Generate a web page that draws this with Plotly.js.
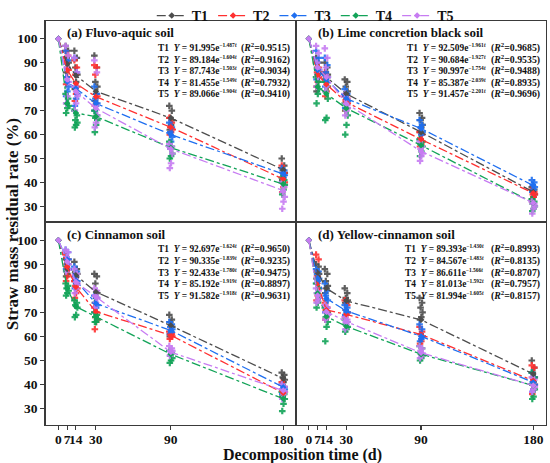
<!DOCTYPE html>
<html><head><meta charset="utf-8">
<script src="https://cdn.plot.ly/plotly-3.0.1.min.js"></script>
<style>html,body{margin:0;padding:0;background:#fff}#chart{width:550px;height:463px}</style>
</head><body><div id="chart"></div>
<script>
// ---------------- DATA ----------------
const days = [7, 14, 30, 90, 180];
const lineDays = [0, 7, 14, 30, 90, 180];
const tickDays = [0, 7, 14, 30, 90, 180];
const tickLabels = ['0', '7', '14', '30', '90', '180'];
const yTickVals = [30, 40, 50, 60, 70, 80, 90, 100];
const treatments = ['T1', 'T2', 'T3', 'T4', 'T5'];
const panelTitles = ['(a) Fluvo-aquic soil', '(b) Lime concretion black soil', '(c) Cinnamon soil', '(d) Yellow-cinnamon soil'];

// (a) Fluvo-aquic soil: replicate points per day [7,14,30,90,180]
const fluvoT1 = [[97,95,92,90,88,86],[95,92,88,85,82,79],[93,88,82,80,77,74],[72,70,67,66,64,62],[50,47,45,44,43,41]];
const fluvoT2 = [[95,93,90,87,84,81],[91,88,85,80,77,74],[89,88,85,76,73,72],[67,65,63,62,61,60],[47,44,42,40,38,36]];
const fluvoT3 = [[95,91,84,80,78,76],[92,86,80,77,75,72],[80,77,75,73,72,70],[65,63,61,59,57,55],[46,45,44,43,42,40]];
const fluvoT4 = [[77,75,73,72,71,69],[70,68,66,65,64,63],[70,68,67,66,64,61],[57,55,54,52,51,50],[42,41,40,39,37,35]];
const fluvoT5 = [[97,93,88,82,76,73],[92,86,80,76,73,70],[91,86,72,68,65,63],[56,55,54,52,48,46],[40,38,36,34,32,29]];
const fluvoMean = [[100,89.5,84.7,78.1,66.9,45.3],[100,87,81.3,75.8,63,41.4],[100,82,79.2,73,60,43.5],[100,73,69,67.5,54.5,39.3],[100,83,78,71,54,36.6]];
const fluvoA = ['91.995','89.184','87.743','81.455','89.066'];
const fluvoK = ['1.487','1.604','1.503','1.549','1.904'];
const fluvoR2 = ['0.9515','0.9162','0.9034','0.7932','0.9410'];

// (b) Lime concretion black soil
const limeT1 = [[92,90,88,86,85,78],[90,88,86,85,84,83],[83,82,80,78,77,76],[69,67,66,64,63,61],[38,37,36,35,34,33]];
const limeT2 = [[90,88,86,84,82,80],[86,84,82,80,78,76],[76,75,74,73,71,70],[61,60,58,57,56,55],[37,36,35,35,34,32]];
const limeT3 = [[95,92,90,87,85,83],[92,89,86,84,82,80],[79,77,76,74,73,71],[66,64,63,61,60,58],[41,40,39,38,37,36]];
const limeT4 = [[84,82,80,79,77,73],[82,80,78,75,67,66],[73,71,70,68,64,60],[58,57,56,55,53,51],[33,32,31,30,29,28]];
const limeT5 = [[97,94,90,87,84,80],[96,92,88,84,80,78],[77,75,73,71,70,68],[57,55,54,52,51,49],[32,31,31,30,29,27]];
const limeMean = [[100,87,84,77,61,36],[100,85,81,73.5,58,35.5],[100,87,83,75,62.5,38.7],[100,80,77,71,55.5,31.5],[100,88,84,73,53,31.5]];
const limeA = ['92.509','90.684','90.997','85.387','91.457'];
const limeK = ['1.961','1.927','1.754','2.039','2.201'];
const limeR2 = ['0.9685','0.9535','0.9488','0.8935','0.9696'];

// (c) Cinnamon soil
const cinnT1 = [[92,90,89,88,86,85],[91,88,87,86,85,83],[86,85,82,78,76,74],[69,67,66,64,62,60],[45,44,43,42,41,40]];
const cinnT2 = [[94,92,90,88,85,83],[83,82,81,80,78,76],[72,70,68,67,66,63],[62,61,61,60,60,59],[41,39,38,37,36,35]];
const cinnT3 = [[96,95,93,92,90,88],[89,87,85,83,82,80],[77,76,74,73,72,70],[66,65,64,63,62,61],[40,39,38,38,37,36]];
const cinnT4 = [[82,81,80,79,78,77],[75,74,73,72,69,68],[70,69,68,67,66,66],[54,53,52,51,50,49],[37,36,35,34,32,29]];
const cinnT5 = [[96,95,93,90,88,87],[88,86,84,82,80,78],[80,79,77,76,74,72],[56,55,54,54,53,52],[40,39,38,37,36,34]];
const cinnMean = [[100,88,85.4,78.5,64.5,42.5],[100,89,80.6,70.3,60.5,36.5],[100,92,83.3,73.7,62.5,38.9],[100,80,72.4,68.3,52.6,34.1],[100,91,82.6,76.5,53.5,37.5]];
const cinnA = ['92.697','90.335','92.433','85.192','91.582'];
const cinnK = ['1.624','1.839','1.780','1.919','1.918'];
const cinnR2 = ['0.9650','0.9235','0.9475','0.8897','0.9631'];

// (d) Yellow-cinnamon soil
const yellT1 = [[90,89,87,86,85,84],[88,86,83,81,80,78],[80,78,76,75,74,74],[76,74,72,70,68,67],[50,47,45,43,41,40]];
const yellT2 = [[94,92,85,80,77,75],[74,72,71,70,68,67],[75,73,71,70,69,68],[64,62,61,60,58,57],[48,47,43,40,38,36]];
const yellT3 = [[88,87,86,84,83,82],[82,79,77,75,72,70],[73,72,71,70,70,69],[65,63,61,60,59,58],[45,43,41,40,38,37]];
const yellT4 = [[82,80,78,76,74,72],[72,70,68,66,64,58],[67,66,65,64,63,62],[56,55,53,52,51,50],[45,43,40,38,35,34]];
const yellT5 = [[80,79,78,76,75,74],[73,72,70,69,68,67],[68,67,66,66,65,63],[56,55,54,53,52,51],[43,42,40,39,38,37]];
const yellMean = [[100,86.5,80,74.8,66.9,44.4],[100,82,71,69.2,60.8,41.6],[100,84,75.8,70.6,60.1,40.9],[100,78,68.3,64.2,52.6,39.6],[100,77,70.3,66.2,53.2,39.6]];
const yellA = ['89.393','84.567','86.611','81.013','81.994'];
const yellK = ['1.430','1.483','1.566','1.592','1.605'];
const yellR2 = ['0.8993','0.8135','0.8707','0.7957','0.8157'];

// ---------------- STYLE ----------------
const colors = ['#4d4d4d', '#ff3030', '#1f6ff0', '#12a358', '#c77cf2'];
const FONT = '"Liberation Serif", "Times New Roman", Times, serif';
const W = 550, H = 463;
const jitter = [-1.2, 0.8, -0.4, 1.2, 0.2, -0.8];
const frameColor = '#3a3a3a';

const panels = [
  {pts:[fluvoT1,fluvoT2,fluvoT3,fluvoT4,fluvoT5], mean:fluvoMean, A:fluvoA, K:fluvoK, R:fluvoR2, x:[45.5,296], y:[15,219], eqL:156, eqR:292},
  {pts:[limeT1,limeT2,limeT3,limeT4,limeT5], mean:limeMean, A:limeA, K:limeK, R:limeR2, x:[296,546], y:[15,219], eqL:405, eqR:542},
  {pts:[cinnT1,cinnT2,cinnT3,cinnT4,cinnT5], mean:cinnMean, A:cinnA, K:cinnK, R:cinnR2, x:[45.5,296], y:[219,424], eqL:156, eqR:292},
  {pts:[yellT1,yellT2,yellT3,yellT4,yellT5], mean:yellMean, A:yellA, K:yellK, R:yellR2, x:[296,546], y:[219,424], eqL:403, eqR:542}
];

const px = v => v / W;
const py = v => 1 - v / H;

const traces = [];
const annotations = [];
const layout = {
  width: W, height: H,
  margin: {l:0, r:0, t:0, b:0},
  paper_bgcolor: '#ffffff', plot_bgcolor: '#ffffff',
  font: {family: FONT, color: '#111', weight: 'bold'},
  showlegend: true,
  legend: {orientation: 'h', x: 0.555, xanchor: 'center', y: 1.014, yanchor: 'top',
           font: {family: FONT, size: 14, weight: 'bold', color: '#111'},
           bgcolor: 'rgba(0,0,0,0)', itemwidth: 30, tracegroupgap: 0},
  annotations: annotations
};

panels.forEach((p, i) => {
  const sfx = i === 0 ? '' : String(i + 1);
  const xa = 'x' + sfx, ya = 'y' + sfx;
  const isLeft = (i % 2 === 0), isBottom = (i >= 2);
  layout['xaxis' + sfx] = {
    domain: [px(p.x[0]), px(p.x[1])], range: [-10.3, 190.2], anchor: ya,
    showgrid: false, zeroline: false, showline: true, mirror: true,
    linecolor: frameColor, linewidth: 1.3,
    tickvals: tickDays, ticktext: tickLabels, tickangle: 0,
    ticks: isBottom ? 'outside' : '', ticklen: 4, tickwidth: 1.2, tickcolor: frameColor,
    showticklabels: isBottom, ticklabelstandoff: -2,
    tickfont: {family: FONT, size: 13.5, weight: 'bold', color: '#111'}
  };
  layout['yaxis' + sfx] = {
    domain: [py(p.y[1]), py(p.y[0])], range: [23.4, 107.5], anchor: xa,
    showgrid: false, zeroline: false, showline: true, mirror: true,
    linecolor: frameColor, linewidth: 1.3,
    tickvals: yTickVals, ticks: isLeft ? 'outside' : '', ticklen: 4, tickwidth: 1.2, tickcolor: frameColor,
    showticklabels: isLeft,
    tickfont: {family: FONT, size: 13.5, weight: 'bold', color: '#111'}
  };
  // scatter replicate points
  p.pts.forEach((series, t) => {
    const xs = [], ys = [];
    series.forEach((vals, d) => {
      vals.forEach((v, k) => { xs.push(days[d] + jitter[k % jitter.length]); ys.push(v); });
    });
    traces.push({x: xs, y: ys, xaxis: xa, yaxis: ya, type: 'scatter', mode: 'markers',
      showlegend: false, hoverinfo: 'skip',
      marker: {symbol: 'cross', size: 5.5, color: colors[t], opacity: 0.9, line: {width: 0}}});
  });
  // mean lines
  p.mean.forEach((vals, t) => {
    traces.push({x: lineDays, y: vals, xaxis: xa, yaxis: ya, type: 'scatter', mode: 'lines+markers',
      name: treatments[t], showlegend: i === 0, legendrank: t + 1,
      line: {color: colors[t], width: 1.3, dash: 'dashdot'},
      marker: {symbol: 'diamond', size: 5, color: colors[t]}});
  });
  // panel title
  annotations.push({xref: 'paper', yref: 'paper', x: px(p.x[0] + 19.5), y: py(p.y[0] + 12),
    xanchor: 'left', yanchor: 'middle', showarrow: false, text: panelTitles[i],
    font: {family: FONT, size: 13, weight: 'bold', color: '#111'}});
  // equations
  for (let t = 0; t < 5; t++) {
    const yy = py(p.y[0] + 27 + t * 11.75);
    annotations.push({xref: 'paper', yref: 'paper', x: px(p.eqL), y: yy, xanchor: 'left', yanchor: 'middle',
      showarrow: false,
      text: treatments[t] + '\u00a0\u00a0<i>Y</i> = ' + p.A[t] + 'e<sup><span style="font-size:5.5px">\u2212' + p.K[t] + '<i>t</i></span></sup>',
      font: {family: FONT, size: 9.4, weight: 'bold', color: '#111'}});
    annotations.push({xref: 'paper', yref: 'paper', x: px(p.eqR), y: yy, xanchor: 'right', yanchor: 'middle',
      showarrow: false,
      text: '(<i>R</i><sup>2</sup>=' + p.R[t] + ')',
      font: {family: FONT, size: 9.8, weight: 'bold', color: '#111'}});
  }
});

// axis titles
annotations.push({xref: 'paper', yref: 'paper', x: px(12), y: py(221), textangle: -90,
  xanchor: 'center', yanchor: 'middle', showarrow: false, text: 'Straw mass residual rate (%)',
  font: {family: FONT, size: 17, weight: 'bold', color: '#111'}});
annotations.push({xref: 'paper', yref: 'paper', x: px(302), y: py(455), xanchor: 'center', yanchor: 'middle',
  showarrow: false, text: 'Decomposition time (d)',
  font: {family: FONT, size: 16, weight: 'bold', color: '#111'}});

Plotly.newPlot('chart', traces, layout, {staticPlot: true, displayModeBar: false});
</script>
</body></html>
